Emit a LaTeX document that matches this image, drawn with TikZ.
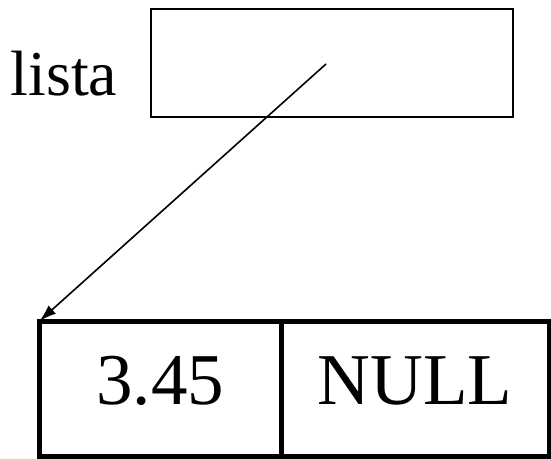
\documentclass[tikz,border=0pt]{standalone}
\usepackage{fontspec}
\setmainfont{Liberation Serif}
\usetikzlibrary{arrows.meta,positioning}

\tikzset{
	ptrbox/.style={draw, line width=1.6pt, minimum width=362pt, minimum height=107.5pt, inner sep=0pt, outer sep=0pt},
	cell/.style={draw, line width=5pt, minimum height=135pt, inner sep=0pt, outer sep=0pt,
		font=\fontsize{73}{73}\selectfont, text height=49pt, text depth=17pt},
}

\begin{document}
\begin{tikzpicture}[x=1pt,y=1pt]
	\useasboundingbox (0,0) rectangle (551,-458);

	%the pointer variable
	\node[ptrbox] (ptr) at (332,-63) {};
	\node[font=\fontsize{64}{64}\selectfont, anchor=base, inner sep=0pt] (lista) at (64,-95) {lista};

	%the list node: value and next
	\node[cell, minimum width=241.5pt] (val) at (160.25,-388.5) {3.45};
	\node[cell, minimum width=268pt, right=0pt of val] (next) {NULL};

	\coordinate (ptrstart) at ([xshift=-6pt,yshift=-1pt]ptr.center);
	\draw[line width=1.6pt, -{Latex[length=17pt,width=11pt]}] (ptrstart) -- (val.north west);
\end{tikzpicture}
\end{document}
